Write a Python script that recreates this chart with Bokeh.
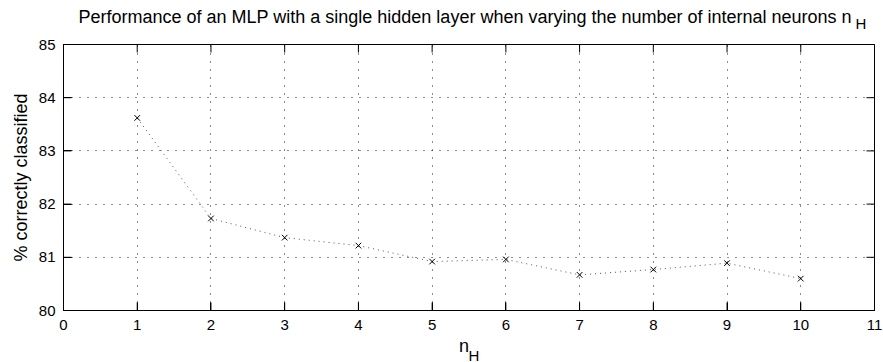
import math
from bokeh.plotting import figure
from bokeh.models import Range1d, LinearAxis, FixedTicker, ColumnDataSource, Grid, Title
from bokeh.embed import file_html
from bokeh.resources import INLINE

# ---- data ----
n_hidden = [1, 2, 3, 4, 5, 6, 7, 8, 9, 10]
pct_correct = [83.62, 81.73, 81.37, 81.22, 80.92, 80.96, 80.67, 80.77, 80.89, 80.60]
x_ticks = [0, 1, 2, 3, 4, 5, 6, 7, 8, 9, 10, 11]
y_ticks = [80, 81, 82, 83, 84, 85]
title_text = "Performance of an MLP with a single hidden layer when varying the number of internal neurons n"
title_sub = "H"
x_label = "n"
x_label_sub = "H"
y_label = "% correctly classified"

W, H = 883, 362
L, R, T, B = 63, 9, 43, 52
FONT = "Liberation Sans"
NB = "\u00a0"
X0, X1 = 0, 11
Y0, Y1 = 80, 85

p = figure(width=W, height=H, output_backend="svg", toolbar_location=None,
           x_range=Range1d(X0, X1), y_range=Range1d(Y0, Y1),
           min_border_left=L, min_border_right=R, min_border_top=T, min_border_bottom=B,
           x_axis_type=None, y_axis_type=None)
p.background_fill_color = "white"
p.border_fill_color = "white"
p.outline_line_color = "black"
p.outline_line_width = 1


def style_axis(ax):
    ax.axis_line_color = "black"
    ax.axis_line_width = 1
    ax.major_tick_in = 8
    ax.major_tick_out = 0
    ax.major_tick_line_color = "black"
    ax.major_tick_line_width = 1
    ax.minor_tick_line_color = None
    ax.major_label_text_font = FONT
    ax.major_label_text_color = "black"
    ax.major_label_text_font_size = "15px"


def style_text(obj, prefix, size):
    setattr(obj, prefix + "text_font", FONT)
    setattr(obj, prefix + "text_font_size", size)
    setattr(obj, prefix + "text_font_style", "normal")
    setattr(obj, prefix + "text_color", "black")


# bottom axis with "n" label
xb = LinearAxis(ticker=FixedTicker(ticks=x_ticks))
style_axis(xb)
xb.major_label_standoff = 9
xb.axis_label = x_label + NB + NB
style_text(xb, "axis_label_", "18px")
xb.axis_label_standoff = 3
p.add_layout(xb, "below")

# subscript "H" of the x label
xsub = Title(text=x_label_sub, align="left", offset=468 - L, vertical_align="top", standoff=-24)
style_text(xsub, "", "15px")
p.add_layout(xsub, "below")

yl = LinearAxis(ticker=FixedTicker(ticks=y_ticks))
style_axis(yl)
yl.major_label_standoff = 8
yl.axis_label = y_label
style_text(yl, "axis_label_", "18px")
yl.axis_label_standoff = 5
p.add_layout(yl, "left")

# title subscript row (inner) and main title (outer)
tsub = Title(text=title_sub, align="left", offset=855 - L, standoff=24.6)
style_text(tsub, "", "15px")
p.add_layout(tsub, "above")
p.title.text = title_text
style_text(p.title, "", "18px")
p.title.align = "left"
p.title.offset = 15
p.title.standoff = -52

# dotted grid
for dim, ticks in ((0, x_ticks), (1, y_ticks)):
    g = Grid(dimension=dim, ticker=FixedTicker(ticks=ticks))
    g.grid_line_color = "black"
    g.grid_line_dash = "1 7"
    g.grid_line_width = 1
    g.grid_line_alpha = 0.9
    p.add_layout(g)

# inward tick marks on all four sides (half of each dash is clipped by the frame)
tick_style = dict(marker="dash", size=16, line_color="black", line_width=1)
p.scatter(x=x_ticks, y=[Y0] * len(x_ticks), angle=math.pi / 2, **tick_style)
p.scatter(x=x_ticks, y=[Y1] * len(x_ticks), angle=math.pi / 2, **tick_style)
p.scatter(x=[X0] * len(y_ticks), y=y_ticks, angle=0, **tick_style)
p.scatter(x=[X1] * len(y_ticks), y=y_ticks, angle=0, **tick_style)

src = ColumnDataSource(dict(x=n_hidden, y=pct_correct))
p.line("x", "y", source=src, line_color="#555555", line_dash="1 4", line_width=1)
p.scatter("x", "y", source=src, marker="x", size=8, line_color="black", line_width=1)

open("out.html", "w").write(file_html(p, INLINE))
